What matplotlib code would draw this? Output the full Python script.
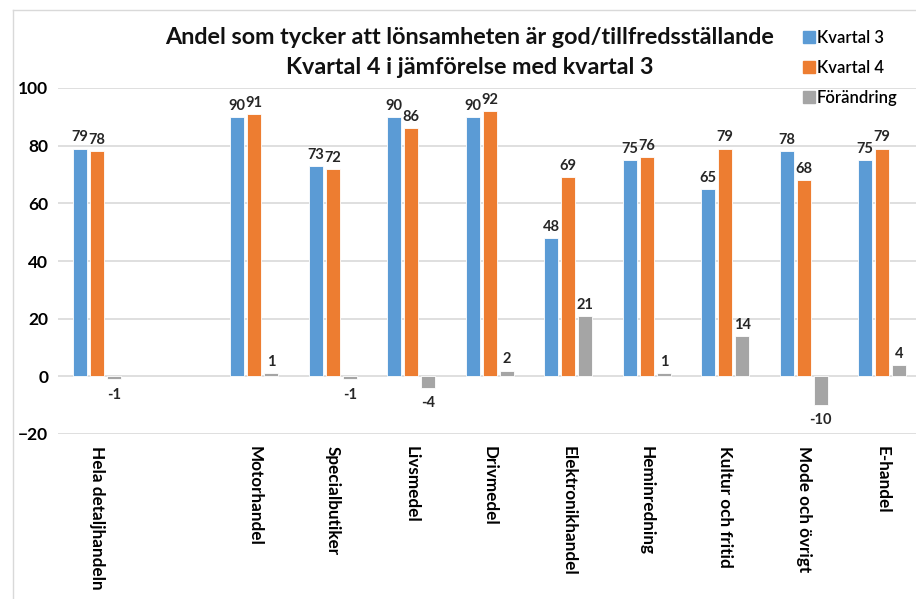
import numpy as np
import matplotlib
matplotlib.use("Agg")
import matplotlib.pyplot as plt
from matplotlib.lines import Line2D

plt.rcParams["font.family"] = ["Lato", "DejaVu Sans"]

# data
kategorier = ["Hela detaljhandeln", "", "Motorhandel", "Specialbutiker", "Livsmedel",
              "Drivmedel", "Elektronikhandel", "Heminredning", "Kultur och fritid",
              "Mode och övrigt", "E-handel"]
kvartal3 = [79, np.nan, 90, 73, 90, 90, 48, 75, 65, 78, 75]
kvartal4 = [78, np.nan, 91, 72, 86, 92, 69, 76, 79, 68, 79]
forandring = [-1, np.nan, 1, -1, -4, 2, 21, 1, 14, -10, 4]
serier = ["Kvartal 3", "Kvartal 4", "Förändring"]
farger = ["#5B9BD5", "#ED7D31", "#A5A5A5"]

fig = plt.figure(figsize=(9.16, 5.99), dpi=100)
ax = fig.add_axes([58/916, (599-434)/599, 1 - 58/916, (434-88)/599])

x = np.arange(len(kategorier))
w = 0.175
off = 0.217
for i, (vals, namn, c) in enumerate(zip([kvartal3, kvartal4, forandring], serier, farger)):
    ax.bar(x + (i - 1)*off, vals, width=w, color=c, edgecolor="white",
           linewidth=0.6, label=namn, zorder=3)
    for xb, v in zip(x + (i - 1)*off, vals):
        if np.isnan(v):
            continue
        if v >= 0:
            ax.annotate(f"{v:g}", (xb, v), xytext=(0, 3), textcoords="offset points",
                        ha="center", va="bottom", fontsize=10.5, fontweight="bold", color="#262626")
        else:
            ax.annotate(f"{v:g}", (xb, v), xytext=(0, -6), textcoords="offset points",
                        ha="center", va="top", fontsize=10.5, fontweight="bold", color="#262626")

ax.set_ylim(-20, 100)
ax.set_xlim(-0.5, 10.43)
ax.set_yticks(np.arange(-20, 101, 20))
ax.yaxis.grid(True, color="#D9D9D9", linewidth=1.2, zorder=0)
ax.set_axisbelow(True)
for s in ax.spines.values():
    s.set_visible(False)
ax.tick_params(axis="both", length=0)
ax.tick_params(axis="y", pad=7, labelsize=12.5)
for t in ax.get_yticklabels():
    t.set_fontweight("bold")
ax.set_xticks(x)
ax.set_xticklabels(kategorier, rotation=270, ha="center", va="top",
                   fontsize=12.3, fontweight="bold")
ax.tick_params(axis="x", pad=9)

fig.text(0.513, 0.938, "Andel som tycker att lönsamheten är god/tillfredsställande",
         ha="center", va="center", fontsize=16.8, fontweight="bold", color="#111111")
fig.text(0.513, 0.888, "Kvartal 4 i jämförelse med kvartal 3",
         ha="center", va="center", fontsize=16.8, fontweight="bold", color="#111111")

handles = [Line2D([], [], marker="s", linestyle="none", markersize=8, color=c) for c in farger]
fig.legend(handles, serier, loc="upper left", bbox_to_anchor=(0.86, 0.975),
           frameon=False, handletextpad=0.05, labelspacing=0.85,
           handlelength=0.8, prop={"weight": "semibold", "size": 12})

# ram runt diagrammet
fig.add_artist(Line2D([13/916, 13/916], [0, 1 - 10/599], transform=fig.transFigure,
                      color="#D9D9D9", linewidth=1))
fig.add_artist(Line2D([13/916, 1], [1 - 10/599, 1 - 10/599], transform=fig.transFigure,
                      color="#D9D9D9", linewidth=1))

fig.savefig("out.png", dpi=100)
